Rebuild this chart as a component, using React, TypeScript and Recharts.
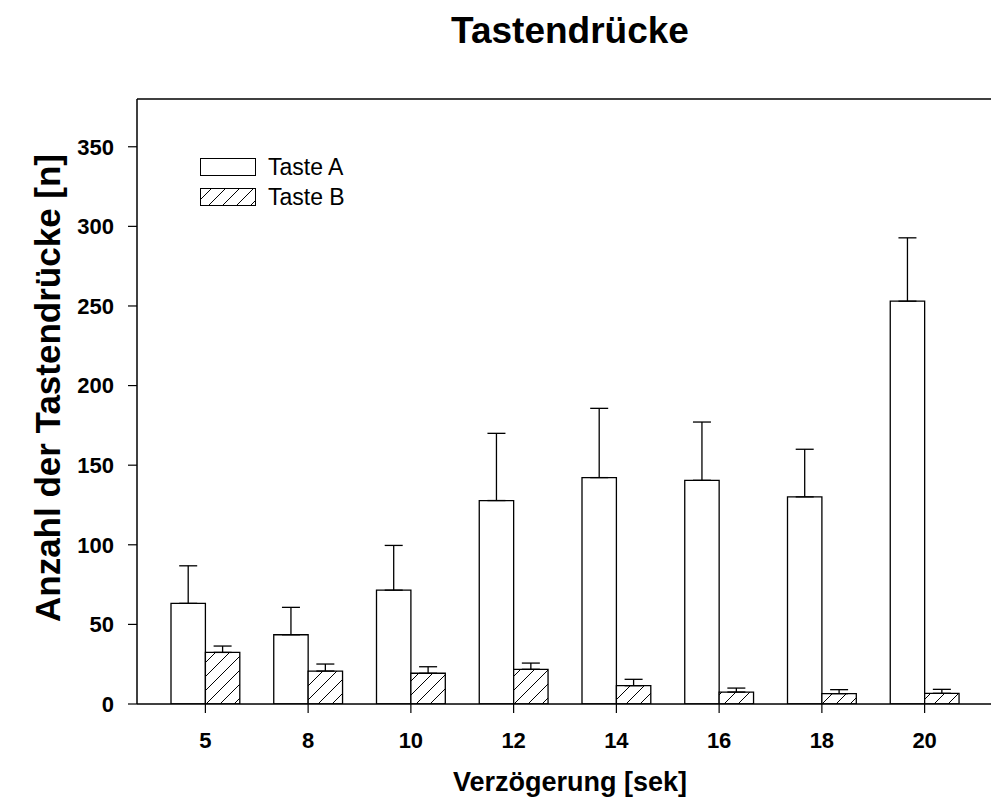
import { BarChart, Bar, XAxis, YAxis, ErrorBar, ReferenceLine, Customized } from 'recharts';

const categories = ['5', '8', '10', '12', '14', '16', '18', '20'];
const tasteA = [63.2, 43.5, 71.5, 127.8, 142.2, 140.5, 130.1, 253];
const tasteAErr = [23.6, 17.2, 28.1, 42.2, 43.5, 36.6, 29.9, 39.8];
const tasteB = [32.4, 20.7, 19.3, 21.8, 11.5, 7.5, 6.5, 6.7];
const tasteBErr = [4, 4.4, 4.1, 3.9, 4, 2.5, 2.5, 2.5];
const yTicks = [0, 50, 100, 150, 200, 250, 300, 350];
const seriesNames = ['Taste A', 'Taste B'];

const FONT = '"Liberation Sans", Arial, sans-serif';

const data = categories.map((c, i) => ({
  delay: c,
  a: tasteA[i],
  aErr: [0, tasteAErr[i]],
  b: tasteB[i],
  bErr: [0, tasteBErr[i]],
}));

// legend drawn inside the plot, like the original
function LegendBox() {
  return (
    <g transform="translate(200, 158)">
      <rect x={0.5} y={0.5} width={55} height={17} fill="#fff" stroke="#000" strokeWidth={1} />
      <rect x={0.5} y={30.5} width={55} height={17} fill="url(#hatch)" stroke="#000" strokeWidth={1} />
      <text x={68} y={17} fontSize={23} fontFamily={FONT} fill="#000">{seriesNames[0]}</text>
      <text x={68} y={47} fontSize={23} fontFamily={FONT} fill="#000">{seriesNames[1]}</text>
    </g>
  );
}

export default function App() {
  return (
    <div style={{ position: 'absolute', left: 0, top: 0, width: 991, height: 802, overflow: 'hidden', background: '#fff' }}>
      <BarChart
        width={1000}
        height={802}
        data={data}
        margin={{ top: 99, right: 7, left: 0, bottom: 0 }}
        barGap={0}
        barSize={34.4}
      >
        <defs>
          <pattern id="hatch" patternUnits="userSpaceOnUse" width={14} height={14}>
            <rect width={14} height={14} fill="#fff" />
            <line x1={0} y1={14} x2={14} y2={0} stroke="#000" strokeWidth={1} />
            <line x1={-7} y1={7} x2={7} y2={-7} stroke="#000" strokeWidth={1} />
            <line x1={7} y1={21} x2={21} y2={7} stroke="#000" strokeWidth={1} />
          </pattern>
        </defs>
        <Customized
          component={() => (
            <text x={570} y={43} textAnchor="middle" fontSize={37} fontWeight="bold" fontFamily={FONT} fill="#000">
              Tastendrücke
            </text>
          )}
        />
        <XAxis
          dataKey="delay"
          height={98}
          padding={{ left: 17, right: 17 }}
          axisLine={{ stroke: '#000', strokeWidth: 1.5 }}
          tickLine={{ stroke: '#000', strokeWidth: 1.2 }}
          tickSize={9}
          tickMargin={19}
          tick={{ fill: '#000', fontSize: 22, fontWeight: 'bold', fontFamily: FONT }}
          label={{
            content: () => (
              <text x={570} y={791} textAnchor="middle" fontSize={27} fontWeight="bold" fontFamily={FONT} fill="#000">
                Verzögerung [sek]
              </text>
            ),
          }}
        />
        <YAxis
          width={137}
          domain={[0, 380]}
          ticks={yTicks}
          allowDataOverflow
          axisLine={{ stroke: '#000', strokeWidth: 1.5 }}
          tickLine={{ stroke: '#000', strokeWidth: 1.2 }}
          tickSize={9}
          tickMargin={14}
          tick={{ fill: '#000', fontSize: 22, fontWeight: 'bold', fontFamily: FONT }}
          label={{
            content: () => (
              <text
                x={60}
                y={388}
                transform="rotate(-90, 60, 388)"
                textAnchor="middle"
                fontSize={35}
                fontWeight="bold"
                fontFamily={FONT}
                fill="#000"
              >
                Anzahl der Tastendrücke [n]
              </text>
            ),
          }}
        />
        <ReferenceLine y={380} stroke="#000" strokeWidth={1.5} />
        <Bar dataKey="a" name={seriesNames[0]} fill="#fff" stroke="#000" strokeWidth={1.3} isAnimationActive={false}>
          <ErrorBar dataKey="aErr" width={9} stroke="#000" strokeWidth={1.3} />
        </Bar>
        <Bar dataKey="b" name={seriesNames[1]} fill="url(#hatch)" stroke="#000" strokeWidth={1.3} isAnimationActive={false}>
          <ErrorBar dataKey="bErr" width={9} stroke="#000" strokeWidth={1.3} />
        </Bar>
        <Customized component={() => <LegendBox />} />
      </BarChart>
    </div>
  );
}
